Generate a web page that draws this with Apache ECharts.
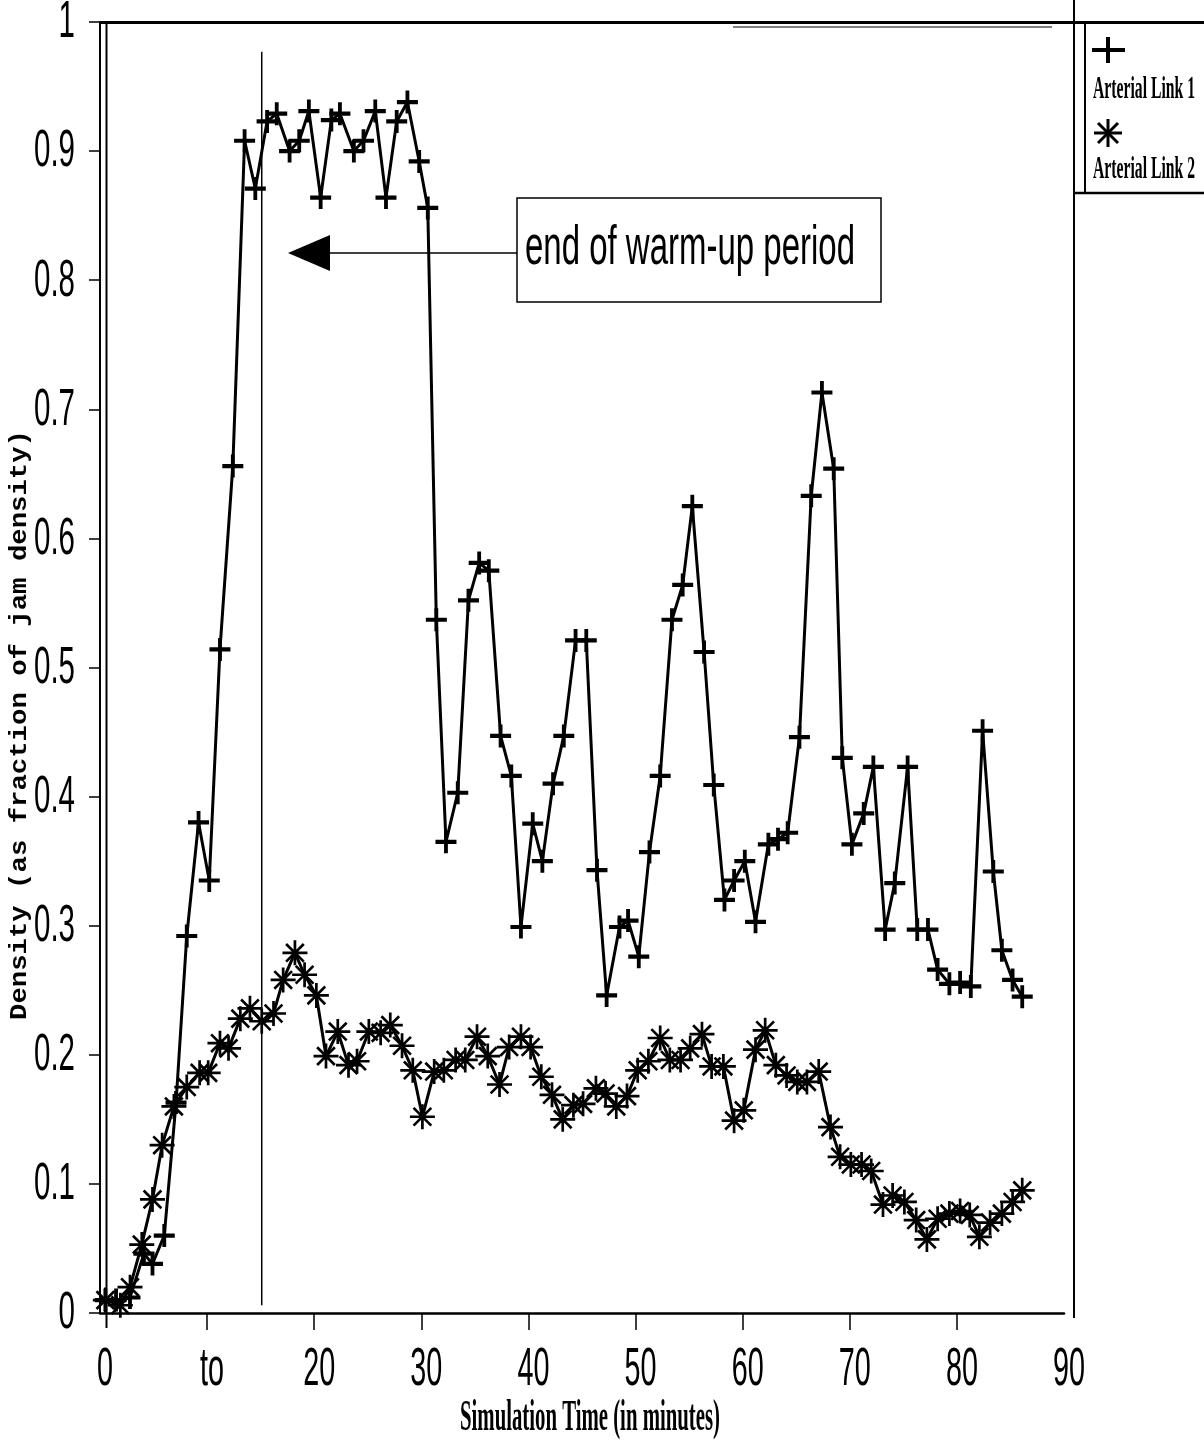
<!DOCTYPE html>
<html><head><meta charset="utf-8">
<script src="https://cdn.jsdelivr.net/npm/echarts@6/dist/echarts.min.js"></script>
<style>html,body{margin:0;padding:0;background:#fff}#main{width:1204px;height:1442px}</style>
</head><body><div id="main"></div>
<script>
const xTickValues = [0, 10, 20, 30, 40, 50, 60, 70, 80, 90];
const xTickLabels = ['0', 'to', '20', '30', '40', '50', '60', '70', '80', '90'];
const yTickValues = [0, 0.1, 0.2, 0.3, 0.4, 0.5, 0.6, 0.7, 0.8, 0.9, 1];
const yTickLabels = ['0', '0.1', '0.2', '0.3', '0.4', '0.5', '0.6', '0.7', '0.8', '0.9', '1'];
const seriesNames = ['Arterial Link 1', 'Arterial Link 2'];
const xAxisTitle = 'Simulation Time (in minutes)';
const yAxisTitle = 'Density (as fraction of jam density)';
const annotationText = 'end of warm-up period';

// [time (min), density]
const link1 = [
  [0.5,0.010],[1.5,0.010],[2.8,0.012],[4.1,0.046],[4.9,0.038],[6.0,0.060],[7.1,0.163],[8.1,0.292],
  [9.2,0.380],[10.2,0.335],[11.2,0.514],[12.4,0.656],[13.5,0.908],[14.5,0.871],[15.6,0.923],[16.5,0.929],
  [17.7,0.900],[18.6,0.908],[19.5,0.931],[20.6,0.864],[21.6,0.924],[22.4,0.929],[23.7,0.900],[24.6,0.908],
  [25.7,0.931],[26.7,0.864],[27.7,0.923],[28.7,0.938],[29.8,0.892],[30.6,0.856],[31.4,0.537],[32.3,0.365],
  [33.4,0.403],[34.4,0.552],[35.4,0.581],[36.3,0.575],[37.4,0.447],[38.4,0.416],[39.3,0.299],[40.4,0.379],
  [41.3,0.350],[42.3,0.410],[43.3,0.447],[44.4,0.521],[45.4,0.521],[46.4,0.343],[47.3,0.246],[48.5,0.299],
  [49.3,0.304],[50.3,0.276],[51.3,0.357],[52.3,0.416],[53.4,0.537],[54.4,0.564],[55.3,0.625],[56.4,0.512],
  [57.3,0.409],[58.3,0.320],[59.2,0.335],[60.2,0.350],[61.2,0.303],[62.4,0.363],[63.3,0.367],[64.2,0.372],
  [65.3,0.446],[66.4,0.633],[67.4,0.713],[68.5,0.654],[69.3,0.430],[70.2,0.363],[71.3,0.387],[72.2,0.423],
  [73.3,0.297],[74.2,0.333],[75.4,0.423],[76.3,0.297],[77.3,0.297],[78.2,0.266],[79.3,0.255],[80.3,0.256],
  [81.3,0.253],[82.4,0.451],[83.4,0.342],[84.2,0.281],[85.2,0.258],[86.1,0.245]
];
const link2 = [
  [0.5,0.010],[1.9,0.006],[2.8,0.020],[3.9,0.053],[4.9,0.088],[5.8,0.130],[6.9,0.160],[8.1,0.175],
  [9.3,0.186],[10.1,0.186],[11.2,0.209],[12.0,0.205],[13.1,0.228],[14.0,0.236],[15.1,0.226],[16.2,0.232],
  [17.1,0.258],[18.2,0.279],[19.1,0.262],[20.2,0.246],[21.1,0.199],[22.2,0.218],[23.2,0.192],[24.0,0.195],
  [25.1,0.218],[26.2,0.217],[27.1,0.223],[28.2,0.207],[29.2,0.188],[30.1,0.152],[31.2,0.187],[32.1,0.188],
  [33.2,0.196],[34.1,0.196],[35.2,0.214],[36.2,0.199],[37.3,0.177],[38.2,0.206],[39.3,0.214],[40.2,0.206],
  [41.2,0.183],[42.2,0.169],[43.2,0.150],[44.2,0.161],[45.1,0.162],[46.3,0.174],[47.2,0.170],[48.2,0.160],
  [49.2,0.168],[50.2,0.188],[51.2,0.195],[52.3,0.213],[53.2,0.196],[54.2,0.196],[55.1,0.205],[56.2,0.216],
  [57.1,0.191],[58.2,0.191],[59.2,0.149],[60.1,0.157],[61.2,0.204],[62.1,0.219],[63.1,0.192],[64.1,0.184],
  [65.1,0.179],[66.0,0.179],[67.1,0.187],[68.2,0.144],[69.1,0.121],[70.1,0.115],[71.1,0.115],[72.0,0.110],
  [73.1,0.084],[74.0,0.091],[75.1,0.086],[76.2,0.072],[77.2,0.057],[78.2,0.073],[79.3,0.077],[80.3,0.079],
  [81.2,0.076],[82.1,0.059],[83.1,0.070],[84.2,0.077],[85.2,0.086],[86.1,0.095]
];
const warmUpLine = [[15.1, 0.006], [15.1, 0.977]];

const plusPath = 'path://M-2,-11H2V-2H11V2H2V11H-2V2H-11V-2H-2Z';
const starPath = 'path://M-12,-1.3L12,-1.3L12,1.3L-12,1.3Z M-1.3,-12L1.3,-12L1.3,12L-1.3,12Z ' +
  'M-7.6,-9.4L9.4,7.6L7.6,9.4L-9.4,-7.6Z M-9.4,7.6L7.6,-9.4L9.4,-7.6L-7.6,9.4Z';

const chart = echarts.init(document.getElementById('main'));
chart.setOption({
  animation: false,
  backgroundColor: '#fff',
  grid: { left: 100, top: 22, width: 964, height: 1291, containLabel: false },
  xAxis: {
    type: 'value', min: 0, max: 90, interval: 10,
    axisLine: { show: true, onZero: false, lineStyle: { color: '#000', width: 2.5 } },
    axisTick: { show: true, length: 17, customValues: [10, 20, 30, 40, 50, 60, 70, 80], lineStyle: { color: '#000', width: 1.5 } },
    axisLabel: { show: false },
    splitLine: { show: false }
  },
  yAxis: {
    type: 'value', min: 0, max: 1, interval: 0.1,
    axisLine: { show: true, onZero: false, lineStyle: { color: '#000', width: 2 } },
    axisTick: { show: true, length: 11, lineStyle: { color: '#000', width: 1.5 } },
    axisLabel: { show: false },
    splitLine: { show: false }
  },
  series: [
    {
      name: seriesNames[0], type: 'line', data: link1, symbol: plusPath, symbolSize: [21, 23],
      lineStyle: { color: '#000', width: 3 }, itemStyle: { color: '#000' }, z: 3
    },
    {
      name: seriesNames[1], type: 'line', data: link2, symbol: starPath, symbolSize: 25,
      lineStyle: { color: '#000', width: 3 }, itemStyle: { color: '#000' }, z: 4
    },
    {
      name: 'warm-up', type: 'line', data: warmUpLine, symbol: 'none',
      lineStyle: { color: '#000', width: 1.5 }, z: 2, silent: true
    }
  ]
});

const ctx = document.createElement('canvas').getContext('2d');
function tw(text, font) { ctx.font = font; return ctx.measureText(text).width; }
function txt(text, x, y, font, align, sx, extra) {
  return Object.assign({
    type: 'text', x: x, y: y, scaleX: sx, silent: true,
    style: { text: text, font: font, fill: '#000', align: align, verticalAlign: 'middle',
             textAlign: align, textVerticalAlign: 'middle' }
  }, extra || {});
}
function line(x1, y1, x2, y2, w) {
  return { type: 'line', silent: true, shape: { x1: x1, y1: y1, x2: x2, y2: y2 }, style: { stroke: '#000', lineWidth: w } };
}

const els = [];
const yFont = '52px "Liberation Sans", "DejaVu Sans", sans-serif';
const sY = 41 / tw('0.9', yFont);
yTickValues.forEach((v, i) => {
  const py = chart.convertToPixel({ yAxisIndex: 0 }, v);
  els.push(txt(yTickLabels[i], 75, py + 1, yFont, 'right', sY));
});
const xFont = '53px "Liberation Sans", "DejaVu Sans", sans-serif';
const sX = 32 / tw('20', xFont);
xTickValues.forEach((v, i) => {
  const px = chart.convertToPixel({ xAxisIndex: 0 }, v);
  els.push(txt(xTickLabels[i], px + 5, 1370, xFont, 'center', sX));
});
const xtFont = 'bold 45px "Liberation Serif", "DejaVu Serif", serif';
els.push(txt(xAxisTitle, 590, 1418, xtFont, 'center', 260 / tw(xAxisTitle, xtFont)));
const ytFont = 'bold 24px "Liberation Mono", "DejaVu Sans Mono", monospace';
els.push(txt(yAxisTitle, 20, 725, ytFont, 'center', 590 / tw(yAxisTitle, ytFont), { rotation: Math.PI / 2 }));

// annotation
const aFont = '55px "Liberation Sans", "DejaVu Sans", sans-serif';
els.push({ type: 'rect', silent: true, shape: { x: 517, y: 198, width: 364, height: 104 }, style: { fill: 'none', stroke: '#000', lineWidth: 1.5 } });
els.push(txt(annotationText, 525, 249, aFont, 'left', 330 / tw(annotationText, aFont)));
els.push(line(329, 253, 517, 253, 1.5));
els.push({ type: 'polygon', silent: true, shape: { points: [[288, 253], [330, 235], [330, 271]] }, style: { fill: '#000' } });

// frame
els.push(line(100, 22.5, 1204, 22.5, 3));
els.push(line(733, 27, 1052, 27, 1));
els.push(line(1074, 0, 1074, 1318, 2));
els.push(line(106.5, 22, 106.5, 1328, 2));
els.push(line(1085, 22, 1085, 193, 2));
els.push(line(1074, 193, 1204, 193, 2.5));

// legend
const lFont = 'bold 32px "Liberation Serif", "DejaVu Serif", serif';
els.push(line(1092, 50, 1125, 50, 4));
els.push(line(1108, 37, 1108, 63, 4));
els.push(txt(seriesNames[0], 1093, 90, lFont, 'left', 102 / tw(seriesNames[0], lFont)));
els.push(line(1094, 133, 1122, 133, 3));
els.push(line(1108, 119, 1108, 147, 3));
els.push(line(1098, 123, 1118, 143, 3));
els.push(line(1118, 123, 1098, 143, 3));
els.push(txt(seriesNames[1], 1093, 170, lFont, 'left', 102 / tw(seriesNames[1], lFont)));

chart.setOption({ graphic: { elements: els } });
</script>
</body></html>
